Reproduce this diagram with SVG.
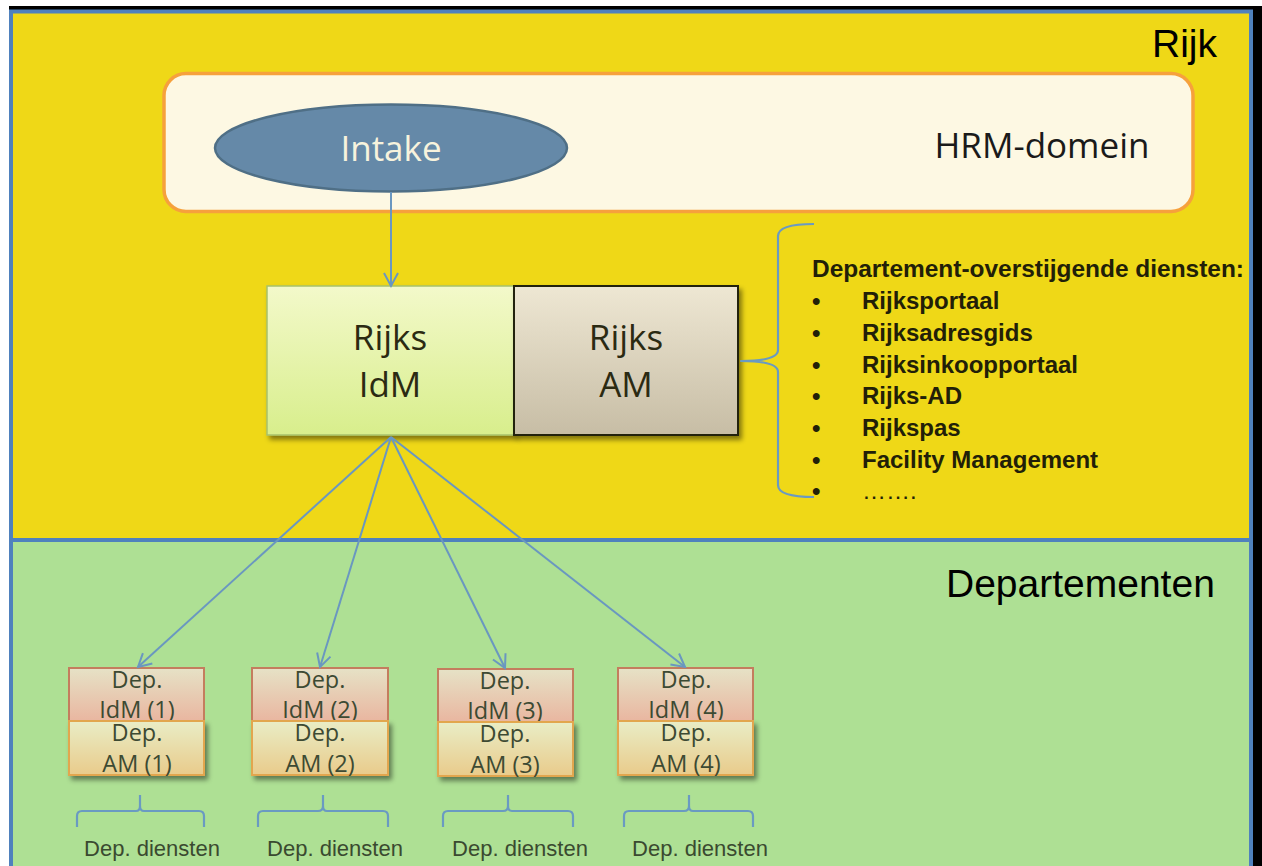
<svg xmlns="http://www.w3.org/2000/svg" width="1262" height="866" viewBox="0 0 1262 866">
  <style>
    .lbl { font-family: "Open Sans", "Noto Sans", sans-serif; text-anchor: middle; }
    .arial { font-family: "Liberation Sans", Arial, sans-serif; }
    .conn { stroke: #6a97c0; stroke-width: 2; fill: none; }
    .brace { stroke: #6a9ac2; stroke-width: 2.2; fill: none; stroke-linejoin: round; }
    .dep { font-family: "Open Sans", "Noto Sans", sans-serif; font-size: 23.5px; fill: #3d4a33; text-anchor: middle; }
    .depidm { fill: url(#gIdmDep); stroke: #c47d5e; stroke-width: 2; }
    .depam { fill: url(#gAmDep); stroke: #e2a64e; stroke-width: 2; }
    .list { font-family: "Liberation Sans", Arial, sans-serif; font-size: 24px; font-weight: bold; fill: #221f08; }
  </style>
  <defs>
    <linearGradient id="gIdm" x1="0" y1="0" x2="0" y2="1">
      <stop offset="0" stop-color="#f3f9ca"/>
      <stop offset="1" stop-color="#d8ee8c"/>
    </linearGradient>
    <linearGradient id="gAm" x1="0" y1="0" x2="0" y2="1">
      <stop offset="0" stop-color="#eee7d3"/>
      <stop offset="1" stop-color="#c7bda5"/>
    </linearGradient>
    <linearGradient id="gIdmDep" x1="0" y1="0" x2="0" y2="1">
      <stop offset="0" stop-color="#e6e2c6"/>
      <stop offset="1" stop-color="#e9b6a0"/>
    </linearGradient>
    <linearGradient id="gAmDep" x1="0" y1="0" x2="0" y2="1">
      <stop offset="0" stop-color="#e9edc6"/>
      <stop offset="1" stop-color="#e9cb8b"/>
    </linearGradient>
    <filter id="shadow" x="-10%" y="-10%" width="125%" height="130%">
      <feDropShadow dx="3" dy="4" stdDeviation="2.5" flood-color="#000" flood-opacity="0.45"/>
    </filter>
    <marker id="arrow" markerUnits="userSpaceOnUse" markerWidth="18" markerHeight="18" refX="14" refY="8" orient="auto">
      <path d="M1,1 L14,8 L1,15" fill="none" stroke="#6a97c0" stroke-width="2"/>
    </marker>
  </defs>

  <!-- page background and frame -->
  <rect x="0" y="0" width="1262" height="866" fill="#ffffff"/>
  <rect x="9" y="6" width="1253" height="4" fill="#000000"/>
  <rect x="1253" y="6" width="9" height="860" fill="#000000"/>
  <rect x="9" y="9.5" width="1244" height="856.5" fill="#4f81bd"/>

  <!-- swimlanes -->
  <g id="lane-rijk">
    <rect x="13" y="13.5" width="1236" height="524.5" fill="#efd817"/>
    <text class="arial" x="1152" y="57" font-size="39" fill="#000">Rijk</text>
  </g>
  <g id="lane-departementen">
    <rect x="13" y="542" width="1236" height="324" fill="#aee094"/>
    <text class="arial" x="946" y="597" font-size="39" fill="#000">Departementen</text>
  </g>

  <!-- HRM domain -->
  <g id="hrm-domein">
    <rect x="164" y="73.5" width="1029" height="138" rx="22" fill="#fdf8e3" stroke="#f6a13c" stroke-width="3.5"/>
    <text class="lbl" x="1042" y="158" font-size="35" fill="#1a1a1a">HRM-domein</text>
  </g>

  <g id="intake">
    <ellipse cx="391" cy="148" rx="176" ry="43.5" fill="#6589a8" stroke="#4f6f86" stroke-width="2.5"/>
    <text class="lbl" x="391" y="161" font-size="35" fill="#f7f3dd">Intake</text>
  </g>

  <!-- central services -->
  <g id="rijks-idm">
    <rect x="267" y="286" width="247" height="149" fill="url(#gIdm)" stroke="#a7c16b" stroke-width="1.5" filter="url(#shadow)"/>
    <text class="lbl" x="390" y="350" font-size="35" fill="#2b2a12">Rijks</text>
    <text class="lbl" x="390" y="397" font-size="35" fill="#2b2a12">IdM</text>
  </g>
  <g id="rijks-am">
    <rect x="514" y="286" width="224" height="149" fill="url(#gAm)" stroke="#23210f" stroke-width="2" filter="url(#shadow)"/>
    <text class="lbl" x="626" y="350" font-size="35" fill="#2b2a12">Rijks</text>
    <text class="lbl" x="626" y="397" font-size="35" fill="#2b2a12">AM</text>
  </g>

  <!-- cross-departmental services -->
  <g id="overstijgende-diensten">
    <path class="brace" d="M814,224 Q778,224 778,236 L778,350 Q778,361 741,361 Q778,361 778,372 L778,485 Q778,497 814,497"/>
    <text class="list" x="812" y="277" textLength="432" lengthAdjust="spacingAndGlyphs">Departement-overstijgende diensten:</text>
    <g class="list">
      <text x="812" y="309">•</text><text x="862" y="309">Rijksportaal</text>
      <text x="812" y="341">•</text><text x="862" y="341">Rijksadresgids</text>
      <text x="812" y="373">•</text><text x="862" y="373">Rijksinkoopportaal</text>
      <text x="812" y="404">•</text><text x="862" y="404">Rijks-AD</text>
      <text x="812" y="436">•</text><text x="862" y="436">Rijkspas</text>
      <text x="812" y="468">•</text><text x="862" y="468">Facility Management</text>
      <text x="812" y="499">•</text><text x="862" y="499" font-weight="normal">…….</text>
    </g>
  </g>

  <!-- departmental units -->
  <g id="dep-1">
    <rect class="depam" x="69" y="721" width="135" height="54" filter="url(#shadow)"/>
    <rect class="depidm" x="69" y="668" width="135" height="53"/>
    <text class="dep" x="137" y="688">Dep.</text>
    <text class="dep" x="137" y="718">IdM (1)</text>
    <rect class="depam" x="69" y="721" width="135" height="54"/>
    <text class="dep" x="137" y="741">Dep.</text>
    <text class="dep" x="137" y="772">AM (1)</text>
  </g>
  <g id="dep-2">
    <rect class="depam" x="252" y="721" width="136" height="54" filter="url(#shadow)"/>
    <rect class="depidm" x="252" y="668" width="136" height="53"/>
    <text class="dep" x="320" y="688">Dep.</text>
    <text class="dep" x="320" y="718">IdM (2)</text>
    <rect class="depam" x="252" y="721" width="136" height="54"/>
    <text class="dep" x="320" y="741">Dep.</text>
    <text class="dep" x="320" y="772">AM (2)</text>
  </g>
  <g id="dep-3">
    <rect class="depam" x="438" y="722" width="135" height="54" filter="url(#shadow)"/>
    <rect class="depidm" x="438" y="669" width="135" height="53"/>
    <text class="dep" x="505" y="689">Dep.</text>
    <text class="dep" x="505" y="719">IdM (3)</text>
    <rect class="depam" x="438" y="722" width="135" height="54"/>
    <text class="dep" x="505" y="742">Dep.</text>
    <text class="dep" x="505" y="773">AM (3)</text>
  </g>
  <g id="dep-4">
    <rect class="depam" x="618" y="721" width="135" height="54" filter="url(#shadow)"/>
    <rect class="depidm" x="618" y="668" width="135" height="53"/>
    <text class="dep" x="686" y="688">Dep.</text>
    <text class="dep" x="686" y="718">IdM (4)</text>
    <rect class="depam" x="618" y="721" width="135" height="54"/>
    <text class="dep" x="686" y="741">Dep.</text>
    <text class="dep" x="686" y="772">AM (4)</text>
  </g>

  <!-- departmental services braces -->
  <g id="dep-diensten">
    <path class="brace" d="M77,827 L77,816 Q77,811 82,811 L136,811 Q140,811 140,806 L140,795 M140,806 Q140,811 144,811 L199,811 Q204,811 204,816 L204,827"/>
    <path class="brace" d="M258,827 L258,816 Q258,811 263,811 L318,811 Q323,811 323,806 L323,795 M323,806 Q323,811 327,811 L383,811 Q388,811 388,816 L388,827"/>
    <path class="brace" d="M443,827 L443,816 Q443,811 448,811 L503,811 Q508,811 508,806 L508,795 M508,806 Q508,811 512,811 L568,811 Q573,811 573,816 L573,827"/>
    <path class="brace" d="M624,827 L624,816 Q624,811 629,811 L684,811 Q689,811 689,806 L689,795 M689,806 Q689,811 693,811 L748,811 Q753,811 753,816 L753,827"/>
    <g class="arial" font-size="22" fill="#3a4a30" text-anchor="middle">
      <text x="152" y="856">Dep. diensten</text>
      <text x="335" y="856">Dep. diensten</text>
      <text x="520" y="856">Dep. diensten</text>
      <text x="700" y="856">Dep. diensten</text>
    </g>
  </g>

  <!-- connectors -->
  <g id="connectors">
    <line class="conn" x1="391" y1="192" x2="391" y2="286" marker-end="url(#arrow)"/>
    <line class="conn" x1="391" y1="437" x2="138" y2="667" marker-end="url(#arrow)"/>
    <line class="conn" x1="391" y1="437" x2="320" y2="667" marker-end="url(#arrow)"/>
    <line class="conn" x1="391" y1="437" x2="505" y2="668" marker-end="url(#arrow)"/>
    <line class="conn" x1="391" y1="437" x2="685" y2="667" marker-end="url(#arrow)"/>
  </g>
</svg>
